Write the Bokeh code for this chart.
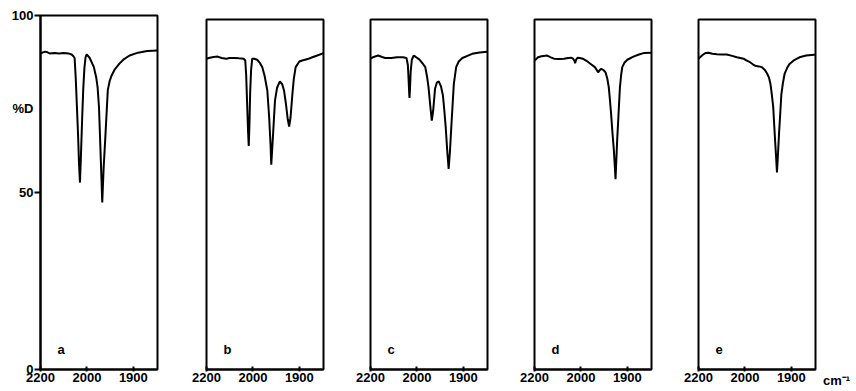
from bokeh.plotting import figure
from bokeh.layouts import row, column
from bokeh.models import Range1d, FixedTicker, Label, ColumnDataSource, LinearAxis
from bokeh.embed import file_html
from bokeh.resources import INLINE

FONT = "Liberation Sans"

# ---- data (wavenumber in cm-1, transmission in %) ----
panel_labels = ["a", "b", "c", "d", "e"]
x_tick_wn = [2200, 2000, 1900]
y_ticks = [0, 50, 100]
y_name_pos = 73.7          # where the "%D" name sits on the ordinate
y_name = "%D"
unit_text = "cm\u207b\u00b9"
wn_right = 1848

wn_a = [2200, 2192, 2180, 2170, 2160, 2140, 2120, 2100, 2080, 2066, 2058, 2053, 2048,
        2043, 2038, 2034, 2030, 2026, 2021, 2016, 2011, 2006, 2001, 1994, 1985, 1980,
        1977, 1974, 1972, 1969.5, 1967, 1964, 1960, 1957, 1955, 1951, 1947, 1940, 1930,
        1920, 1908, 1890, 1870, 1848]
t_a = [89.2, 89.5, 89.8, 89.6, 89.3, 89.4, 89.3, 89.4, 89.3, 89.0, 88.5, 88.0, 82.0,
       74.0, 66.0, 58.0, 52.8, 60.0, 70.0, 79.0, 85.0, 88.2, 89.0, 88.0, 85.4, 82.5,
       79.7, 74.0, 66.5, 57.0, 47.2, 57.0, 66.5, 74.0, 79.0, 81.5, 83.0, 84.8, 86.4,
       87.7, 88.7, 89.5, 90.0, 90.1]

wn_b = [2200, 2190, 2170, 2152, 2135, 2115, 2100, 2078, 2060, 2040, 2033, 2029, 2025,
        2021, 2018, 2015, 2012, 2008, 2003, 1997, 1991, 1985, 1980, 1975, 1969, 1965,
        1962, 1960.5, 1958, 1955, 1952.5, 1948, 1942, 1937, 1933, 1929, 1925, 1922,
        1919, 1915, 1912, 1908, 1900, 1894, 1880, 1872, 1860, 1848]
t_b = [88.8, 89.0, 89.3, 89.4, 89.0, 88.8, 89.0, 89.0, 88.9, 88.8, 88.3, 84.0, 76.0,
       68.0, 63.9, 70.0, 79.0, 85.5, 88.8, 88.8, 88.5, 87.6, 86.4, 84.0, 79.7, 72.0,
       64.0, 58.5, 64.0, 71.0, 76.8, 80.5, 82.3, 81.5, 79.7, 76.0, 71.5, 69.4,
       72.0, 78.7, 83.0, 86.4, 88.0, 88.3, 88.8, 89.2, 89.8, 90.4]

wn_c = [2200, 2190, 2167, 2150, 2137, 2110, 2086, 2060, 2045, 2039, 2036, 2033, 2032,
        2030, 2027, 2022, 2014, 2005, 1995, 1988, 1982, 1978, 1975, 1971, 1968, 1965,
        1961, 1957, 1953, 1948, 1944, 1941, 1938, 1935, 1931.7, 1929, 1926, 1923,
        1920.5, 1915.5, 1910, 1902, 1890, 1881, 1865, 1848]
t_c = [88.8, 89.2, 89.7, 89.3, 89.0, 89.0, 89.2, 89.2, 89.0, 87.0, 83.0, 78.5, 77.6,
       80.0, 85.0, 88.5, 89.7, 89.3, 88.6, 87.5, 86.4, 83.5, 80.6, 75.0, 71.1, 74.0,
       80.2, 82.0, 82.3, 80.8, 78.3, 74.0, 69.2, 63.0, 57.3, 62.0, 69.2, 76.0,
       81.6, 86.4, 88.0, 89.0, 89.7, 90.2, 90.6, 90.8]

wn_d = [2200, 2196, 2185, 2170, 2145, 2130, 2116, 2095, 2073, 2055, 2043, 2035, 2028,
        2025, 2021, 2014, 2005, 1996, 1988, 1979, 1970, 1966, 1963, 1959, 1956, 1951,
        1947, 1943, 1940, 1937.5, 1935, 1932, 1929, 1927, 1925.5, 1924, 1922, 1919,
        1916, 1913.5, 1911, 1906, 1900, 1887, 1875, 1865, 1848]
t_d = [88.3, 88.5, 89.2, 89.5, 89.7, 89.2, 88.8, 88.7, 88.8, 89.0, 89.1, 88.9, 88.2,
       87.5, 88.5, 89.1, 89.0, 88.8, 88.2, 87.3, 86.4, 85.6, 84.9, 85.6, 85.9, 85.5,
       84.9, 83.0, 80.6, 77.0, 73.0, 67.5, 62.5, 58.0, 54.4, 59.0, 65.4, 73.0,
       80.6, 84.0, 86.4, 87.7, 88.5, 89.4, 90.0, 90.4, 90.5]

wn_e = [2200, 2193, 2180, 2170, 2157, 2140, 2121, 2100, 2078, 2055, 2035, 2020, 2006,
        1997, 1989, 1983, 1978, 1970, 1964, 1957, 1952, 1948, 1945, 1942, 1939, 1937,
        1935, 1933, 1931, 1929, 1926.6, 1924, 1921.5, 1918, 1914.5, 1909, 1904, 1895,
        1882.6, 1868, 1851, 1848]
t_e = [88.8, 89.2, 90.0, 90.4, 90.5, 90.2, 90.1, 90.0, 90.0, 89.6, 89.2, 89.0, 88.8,
       88.3, 87.8, 87.2, 86.8, 86.6, 86.4, 85.6, 84.5, 83.3, 81.6, 78.5, 74.9, 70.0,
       65.4, 61.0, 56.3, 61.0, 67.3, 73.0, 78.7, 82.0, 84.5, 86.2, 87.3, 88.3,
       89.2, 89.7, 89.9, 89.9]

spectra = [(wn_a, t_a), (wn_b, t_b), (wn_c, t_c), (wn_d, t_d), (wn_e, t_e)]


def to_s(wn):
    """Chart abscissa: 2200-2000 cm-1 compressed 2:1 relative to 2000-1850."""
    if wn >= 2000:
        return (2200.0 - wn) / 2.0
    return 100.0 + (2000.0 - wn)


def style_labels(ax):
    ax.major_label_text_font = FONT
    ax.major_label_text_font_style = "bold"
    ax.major_label_text_font_size = "13px"
    ax.major_label_text_color = "black"


FRAME_W = 117
HEIGHT = 390
BOTTOM = 21
figs = []
for i, ((wn, t), lab) in enumerate(zip(spectra, panel_labels)):
    first = i == 0
    last = i == len(spectra) - 1
    left = 40 if first else 25
    right = 24 if first else (3 if last else 22)
    top = 15 if first else 19
    p = figure(width=left + FRAME_W + right, height=HEIGHT,
               x_range=Range1d(0, to_s(wn_right)), y_range=Range1d(0, 100),
               output_backend="svg", toolbar_location=None,
               y_axis_location="left" if first else None,
               min_border_left=left, min_border_right=right,
               min_border_top=top, min_border_bottom=BOTTOM)
    p.background_fill_color = "white"
    p.border_fill_color = "white"
    p.outline_line_color = "black"
    p.outline_line_width = 2
    p.xgrid.visible = False
    p.ygrid.visible = False

    src = ColumnDataSource(dict(x=[to_s(w) for w in wn], y=t))
    p.line("x", "y", source=src, line_color="black", line_width=2)

    p.xaxis.ticker = FixedTicker(ticks=[to_s(w) for w in x_tick_wn])
    p.xaxis.major_label_overrides = {to_s(w): str(w) for w in x_tick_wn}
    p.xaxis.minor_tick_line_color = None
    p.xaxis.major_tick_in = 3
    p.xaxis.major_tick_out = 2
    p.xaxis.major_label_standoff = 1
    p.xaxis.axis_line_width = 2
    p.xaxis.major_tick_line_width = 2
    style_labels(p.xaxis)

    if first:
        # tick marks only
        p.yaxis.ticker = FixedTicker(ticks=y_ticks)
        p.yaxis.major_label_overrides = {v: "" for v in y_ticks}
        p.yaxis.minor_tick_line_color = None
        p.yaxis.major_tick_in = 0
        p.yaxis.major_tick_out = 6
        p.yaxis.major_tick_line_width = 2
        p.yaxis.axis_line_width = 2
        p.yaxis.major_label_standoff = 0
        # labels (numbers and the ordinate's name) without tick marks
        lab_ax = LinearAxis(ticker=FixedTicker(ticks=sorted(y_ticks + [y_name_pos])),
                            major_label_overrides={y_name_pos: y_name},
                            axis_line_color=None, major_tick_line_color=None,
                            minor_tick_line_color=None, major_tick_in=0,
                            major_tick_out=0, major_label_standoff=1)
        style_labels(lab_ax)
        p.add_layout(lab_ax, "left")

    p.add_layout(Label(x=0, y=5.7, x_offset=17, text=lab,
                       text_font=FONT, text_font_style="bold",
                       text_font_size="13px", text_baseline="middle",
                       text_align="left", text_color="black"))
    figs.append(p)

# unit of the abscissa, written as a tick label right of the last panel
u = figure(width=36, height=HEIGHT, x_range=Range1d(0, 36), y_range=Range1d(0, 1),
           output_backend="svg", toolbar_location=None,
           x_axis_location="below", y_axis_location=None,
           min_border_left=0, min_border_right=0, min_border_top=19,
           min_border_bottom=BOTTOM)
u.outline_line_color = None
u.xgrid.visible = False
u.ygrid.visible = False
u.xaxis.ticker = FixedTicker(ticks=[18])
u.xaxis.major_label_overrides = {18: unit_text}
u.xaxis.axis_line_color = None
u.xaxis.major_tick_line_color = None
u.xaxis.minor_tick_line_color = None
u.xaxis.major_tick_in = 0
u.xaxis.major_tick_out = 2
u.xaxis.major_label_standoff = 1
style_labels(u.xaxis)
figs.append(u)

layout = row(*[column(f) for f in figs])
open("out.html", "w").write(file_html(layout, INLINE))
